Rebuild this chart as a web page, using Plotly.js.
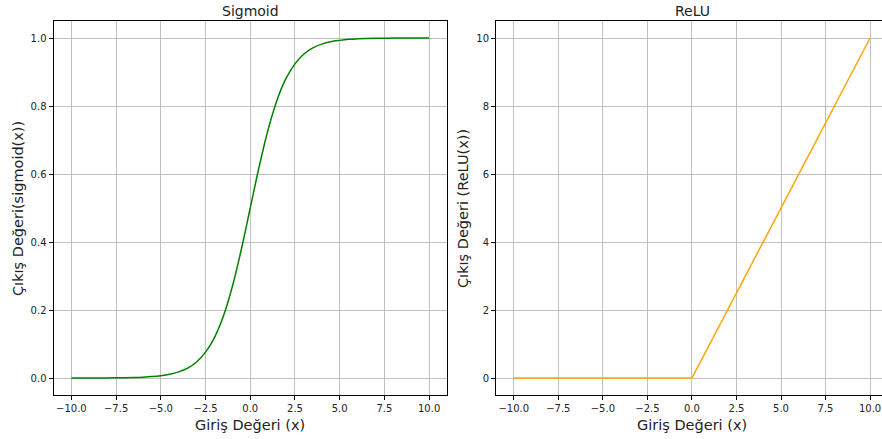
<!DOCTYPE html>
<html><head><meta charset="utf-8">
<script src="https://cdn.plot.ly/plotly-3.0.1.min.js"></script>
<style>html,body{margin:0;padding:0;background:#fff}#c{width:882px;height:439px}</style>
</head><body><div id="c"></div>
<script>
// Sigmoid curve
const sigX = [-10,-9.5,-9,-8.5,-8,-7.5,-7,-6.5,-6,-5.5,-5,-4.5,-4,-3.5,-3,-2.5,-2,-1.5,-1,-0.5,0,0.5,1,1.5,2,2.5,3,3.5,4,4.5,5,5.5,6,6.5,7,7.5,8,8.5,9,9.5,10];
const sigY = [0.00005,0.00007,0.00012,0.0002,0.00034,0.00055,0.0009,0.0015,0.0025,0.0041,0.0067,0.011,0.018,0.029,0.047,0.076,0.119,0.182,0.269,0.378,0.5,0.622,0.731,0.818,0.881,0.924,0.953,0.971,0.982,0.989,0.993,0.996,0.9975,0.9985,0.9991,0.9994,0.9997,0.9998,0.9999,0.9999,1.0];
// ReLU curve
const reluX = [-10, 0, 10];
const reluY = [0, 0, 10];
// Labels
const titles = ["Sigmoid", "ReLU"];
const xLabel = "Giriş Değeri (x)";
const yLabels = ["Çıkış Değeri(sigmoid(x))", "Çıkış Değeri (ReLU(x))"];
const xTicks = [-10, -7.5, -5, -2.5, 0, 2.5, 5, 7.5, 10];
const sigYTicks = [0, 0.2, 0.4, 0.6, 0.8, 1.0];
const reluYTicks = [0, 2, 4, 6, 8, 10];

const W = 882, H = 439;
const font = "DejaVu Sans, sans-serif";
const yDom = [1 - 395/H, 1 - 21/H];

const axBase = {
  showline: true, linecolor: "#000", linewidth: 1,
  ticks: "outside", ticklen: 4, tickwidth: 1, tickcolor: "#000",
  showgrid: true, gridcolor: "#b0b0b0", gridwidth: 0.8,
  zeroline: false, tickfont: {family: font, size: 10, color: "#222"},
  fixedrange: true
};

const traces = [
  {x: sigX, y: sigY, type: "scatter", mode: "lines", line: {color: "#008000", width: 1.5, shape: "spline"}, xaxis: "x", yaxis: "y", hoverinfo: "skip"},
  {x: reluX, y: reluY, type: "scatter", mode: "lines", line: {color: "#FFA500", width: 1.5}, xaxis: "x2", yaxis: "y2", hoverinfo: "skip"}
];

const labFont = {family: font, size: 14.5, color: "#222"};
const layout = {
  width: W, height: H,
  margin: {l: 0, r: 0, t: 0, b: 0},
  paper_bgcolor: "#fff", plot_bgcolor: "#fff",
  showlegend: false,
  xaxis: Object.assign({}, axBase, {domain: [53.5/W, 447/W], range: [-11, 11], mirror: true, tickvals: xTicks, tickformat: ".1f", anchor: "y"}),
  yaxis: Object.assign({}, axBase, {domain: yDom, range: [-0.05, 1.05], mirror: true, tickvals: sigYTicks, tickformat: ".1f", anchor: "x"}),
  xaxis2: Object.assign({}, axBase, {domain: [496/W, 1], range: [-11, 10.67], mirror: true, tickvals: xTicks, tickformat: ".1f", anchor: "y2"}),
  yaxis2: Object.assign({}, axBase, {domain: yDom, range: [-0.5, 10.5], mirror: false, tickvals: reluYTicks, tickformat: "d", anchor: "x2"}),
  annotations: [
    {text: titles[0], xref: "paper", yref: "paper", x: 250/W, y: 1 - 11/H, showarrow: false, font: {family: font, size: 14, color: "#222"}, xanchor: "center", yanchor: "middle"},
    {text: titles[1], xref: "paper", yref: "paper", x: 692/W, y: 1 - 11/H, showarrow: false, font: {family: font, size: 14, color: "#222"}, xanchor: "center", yanchor: "middle"},
    {text: xLabel, xref: "paper", yref: "paper", x: 250/W, y: 1 - 425/H, showarrow: false, font: labFont, xanchor: "center", yanchor: "middle"},
    {text: xLabel, xref: "paper", yref: "paper", x: 692/W, y: 1 - 425/H, showarrow: false, font: labFont, xanchor: "center", yanchor: "middle"},
    {text: yLabels[0], xref: "paper", yref: "paper", x: 18/W, y: 1 - 209/H, showarrow: false, textangle: -90, font: labFont, xanchor: "center", yanchor: "middle"},
    {text: yLabels[1], xref: "paper", yref: "paper", x: 463/W, y: 1 - 209/H, showarrow: false, textangle: -90, font: labFont, xanchor: "center", yanchor: "middle"}
  ]
};

Plotly.newPlot("c", traces, layout, {staticPlot: true, displayModeBar: false});
</script>
</body></html>
